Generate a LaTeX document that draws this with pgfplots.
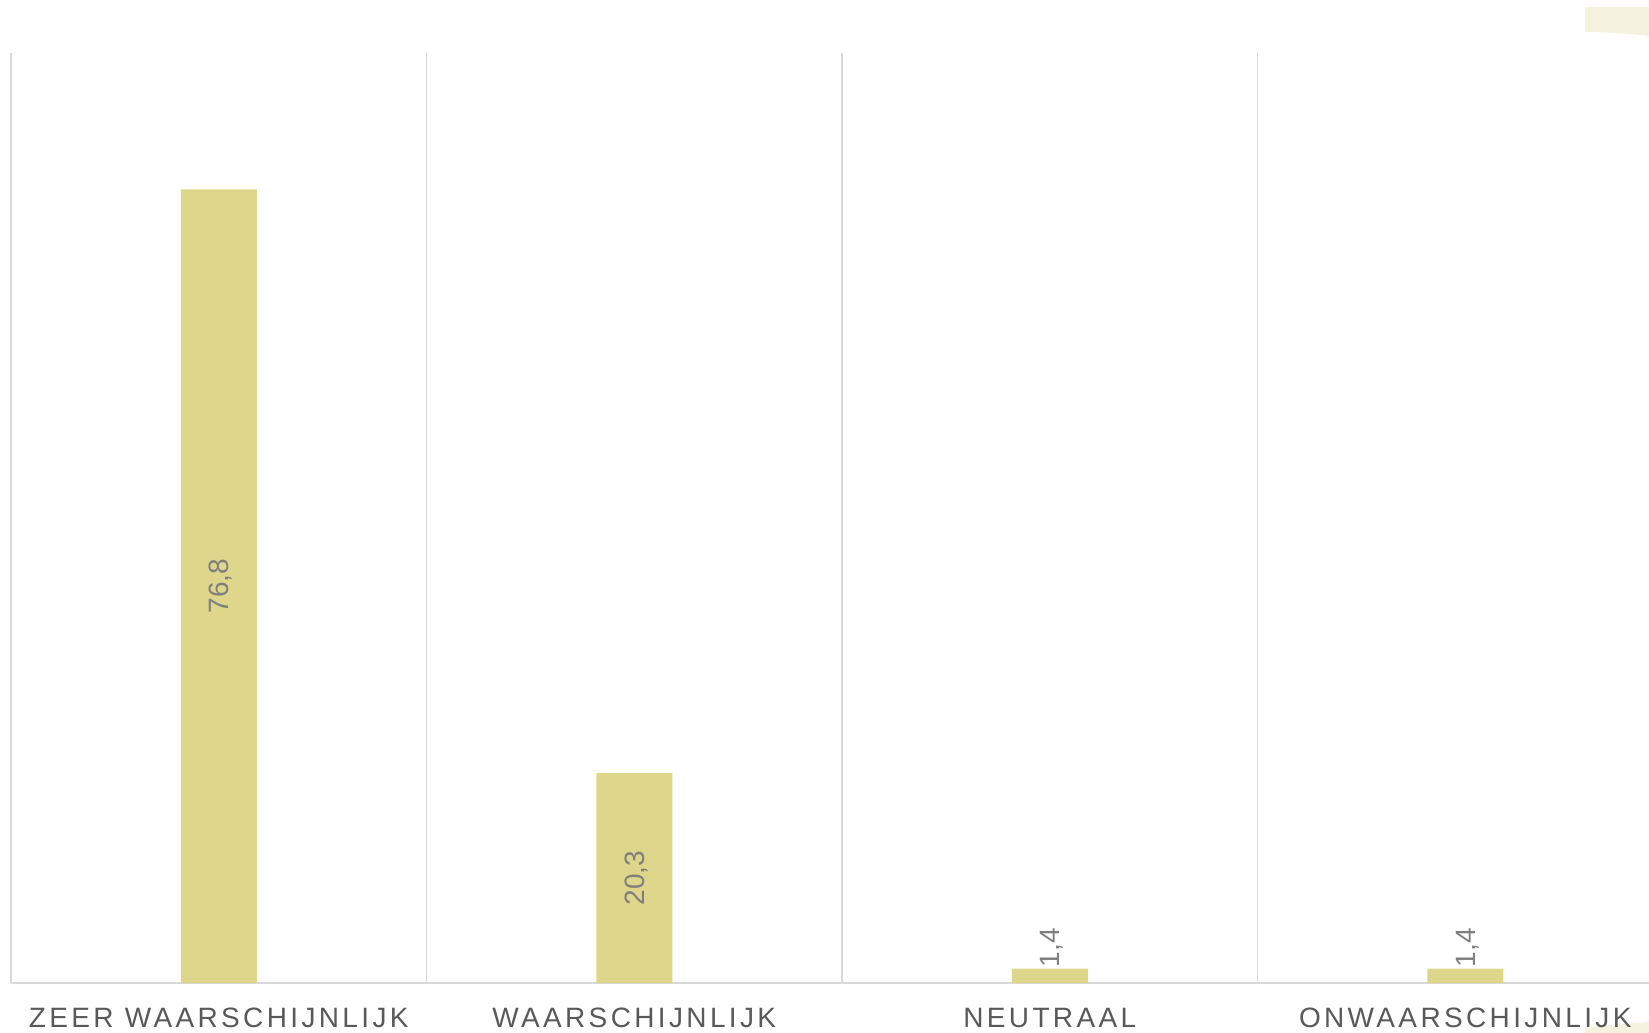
\documentclass[border=0pt]{standalone}
\usepackage{fontspec}
\setmainfont{Liberation Sans}
\newfontfamily\lblfont[LetterSpace=12]{Liberation Sans}
\usepackage{pgfplots}
\pgfplotsset{compat=1.18}
\definecolor{barc}{HTML}{DED68A}
\definecolor{gridc}{HTML}{D9D9D9}
\definecolor{lblc}{HTML}{595959}
\definecolor{numc}{HTML}{7F7F7F}
\definecolor{deco}{HTML}{F6F2E0}
\begin{document}
\begin{tikzpicture}[x=1pt,y=1pt]
\path[use as bounding box] (0,0) rectangle (824.5,516.5);
\fill[deco] (792.5,513) -- (824.5,513) -- (824.5,498.5) .. controls (812,500) and (800,500.5) .. (792.5,500.5) -- cycle;
\fill[deco] (792.5,0) -- (792.5,2.5) .. controls (805,4) and (815,5) .. (824.5,5.5) -- (824.5,0) -- cycle;
\begin{axis}[
  at={(5.5pt,25pt)}, anchor=south west,
  scale only axis, width=831pt, height=465pt,
  xmin=-0.5, xmax=3.5, ymin=0, ymax=90,
  axis line style={draw=none},
  ytick=\empty,
  xtick={0,1,2,3},
  xticklabels={ZEER WAARSCHIJNLIJK, WAARSCHIJNLIJK, NEUTRAAL, ONWAARSCHIJNLIJK},
  major tick length=0pt,
  minor xtick={-0.5,0.5,1.5,2.5,3.5},
  minor tick length=0pt,
  xminorgrids,
  minor grid style={gridc, line width=0.7pt},
  extra y ticks={0}, extra y tick labels={},
  extra y tick style={ymajorgrids=true, major grid style={gridc, line width=0.8pt}},
  xticklabel style={font=\fontsize{14}{16}\lblfont, text=lblc, anchor=base, yshift=-22pt},
  /pgf/number format/use comma,
  /pgf/number format/fixed,
  /pgf/number format/fixed zerofill,
  /pgf/number format/precision=1,
  /pgf/number format/assume math mode=true,
]
\addplot[ybar, bar width=38pt, bar shift=0pt, fill=barc, draw=none,
  nodes near coords,
  visualization depends on={rawy \as \rawy},
  every node near coord/.append style={font=\fontsize{14}{16}\selectfont, text=numc,
    xshift=1pt, yshift=-\rawy*2.58333pt, rotate=90, anchor=center}]
  coordinates {(0,76.8) (1,20.3)};
\addplot[ybar, bar width=38pt, bar shift=0pt, fill=barc, draw=none,
  nodes near coords,
  every node near coord/.append style={font=\fontsize{14}{16}\selectfont, text=numc,
    xshift=1pt, rotate=90, anchor=west, inner sep=0.5pt}]
  coordinates {(2,1.4) (3,1.4)};
\end{axis}
\end{tikzpicture}
\end{document}
